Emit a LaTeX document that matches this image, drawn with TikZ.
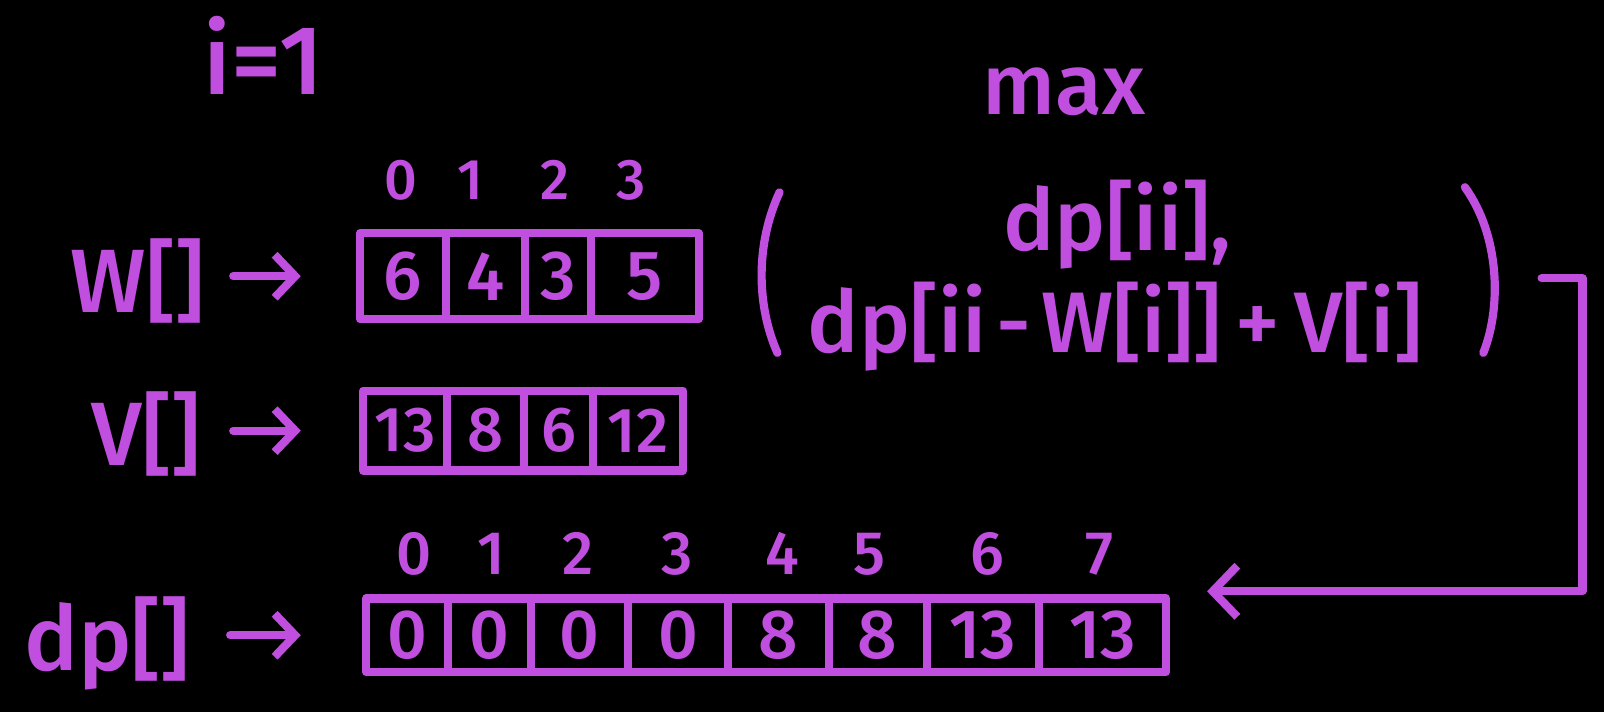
\documentclass[tikz,border=0pt]{standalone}
\usepackage{fontspec}
\setmainfont{Fira Sans}[BoldFont={Fira Sans Medium}]
\usepackage{tikz}
\usetikzlibrary{calc,positioning,arrows.meta}
\definecolor{pen}{RGB}{192,78,222}

\begin{document}
\begin{tikzpicture}[x=1pt, y=-1pt, line cap=round, line join=round,
    ink/.style={draw=pen, line width=8pt},
    cell/.style={ink, text=pen, inner sep=0pt, font=\fontsize{68}{68}\selectfont\bfseries},
    lbl/.style={text=pen, inner sep=0pt, font=\fontsize{88}{88}\selectfont\bfseries},
    idx/.style={text=pen, inner sep=0pt, font=\fontsize{56}{56}\selectfont\bfseries},
    arr/.style={pen, line width=8pt, -{Straight Barb[length=20pt, width=42pt]}}]
    \useasboundingbox (0,0) rectangle (1568,696);
    \fill[black] (0,0) rectangle (1568,696);

    % Loop counter
    \node[lbl, font=\fontsize{96}{96}\selectfont\bfseries, anchor=base] (ilabel) at (258,92) {i=1};

    % Weights W[]
    \node[lbl, anchor=base east] (wlabel) at (200,305) {W[]};
    \foreach \n/\x in {0/392, 1/460, 2/543, 3/617}
        \node[idx, anchor=base] (wi\n) at (\x,195) {\n};
    \foreach \n/\x/\w/\v in {0/394/84/6, 1/474.5/77/4, 2/545.5/65/3, 3/630.5/105/5}
        \node[cell, minimum width=\w pt, minimum height=84pt] (w\n) at (\x,270) {\v};
    \draw[arr, shorten <=28pt, shorten >=54pt] (wlabel.east |- w0.west) -- (w0.west);

    % Values V[]
    \node[lbl, anchor=base east] (vlabel) at (196,455) {V[]};
    \foreach \n/\x/\w/\v in {0/396/82/13, 1/474.5/75/8, 2/546/68/6, 3/624/88/12}
        \node[cell, font=\fontsize{62}{62}\selectfont\bfseries, minimum width=\w pt, minimum height=78pt] (v\n) at (\x,421) {\v};
    \draw[arr, shorten <=32pt, shorten >=57pt] (vlabel.east |- v0.west) -- (v0.west);

    % Table dp[]
    \node[lbl, anchor=base east] (dplabel) at (186,655) {dp[]};
    \foreach \n/\x in {0/405, 1/480, 2/565, 3/662, 4/765, 5/850, 6/965, 7/1075}
        \node[idx, font=\fontsize{60}{60}\selectfont\bfseries, anchor=base] (dpi\n) at (\x,562) {\n};
    \foreach \n/\x/\w/\v in {0/398/80/0, 1/478.5/81/0, 2/566.5/95/0, 3/663/98/0,
                             4/761/98/8, 5/858/96/8, 6/961/110/13, 7/1078/124/13}
        \node[cell, minimum width=\w pt, minimum height=72pt] (dp\n) at (\x,621) {\v};
    \draw[arr, shorten <=39pt, shorten >=60pt] (dplabel.east |- dp0.west) -- (dp0.west);

    % Recurrence
    \node[lbl, font=\fontsize{84}{84}\selectfont\bfseries, anchor=base] (maxlabel) at (1040,112) {max};
    \node[lbl, font=\fontsize{84}{84}\selectfont\bfseries, anchor=base] (maxtop) at (1092,245) {dp[ii],};
    \node[lbl, font=\fontsize{84}{84}\selectfont\bfseries, anchor=base] (maxbot) at (1090,345)
        {dp[ii\kern10pt-\kern10pt W[i]]\kern14pt+\kern14pt V[i]};
    \draw[ink] (762,188) .. controls (738,240) and (740,300) .. (760,345);
    \draw[ink] (1432,183) .. controls (1466,230) and (1468,300) .. (1450,345);

    % Result written back
    \coordinate (hook) at (1507,272);
    \coordinate (dpin) at (1180,578);
    \draw[arr, -{Straight Barb[length=24pt, width=50pt]}] (hook) -- ++(40,0) |- (dpin);
\end{tikzpicture}
\end{document}
